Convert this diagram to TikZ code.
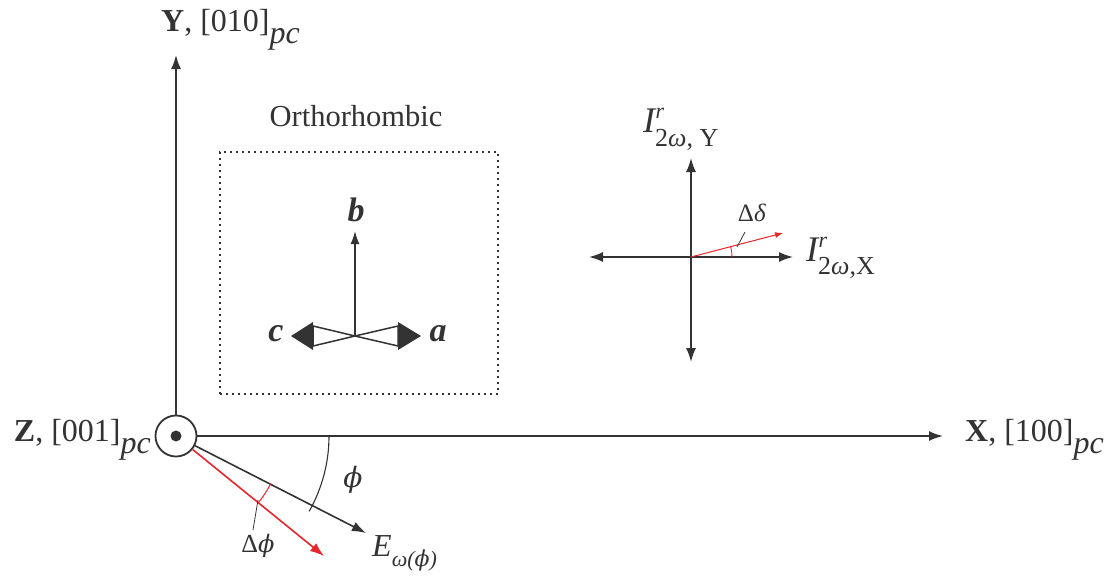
\documentclass[tikz,border=0pt]{standalone}
\usepackage{fontspec}
\setmainfont{Liberation Serif}
\newfontfamily\grk{DejaVu Serif}
\usetikzlibrary{arrows.meta}
\definecolor{ink}{HTML}{333333}
\definecolor{redl}{HTML}{E8252A}
\newcommand\lowsub[1]{\raisebox{-0.38em}{\itshape #1}}
\newcommand\vphi{{\grk\itshape ϕ}}
\begin{document}
\begin{tikzpicture}[x=1pt,y=-1pt,
  axis/.style={draw=ink,line width=1.8pt,-{Latex[length=14pt,width=10pt]}},
  thin/.style={draw=ink,line width=1.1pt},
  lab/.style={inner sep=0pt,text=ink,font=\fontsize{32}{36}\selectfont},
  small/.style={inner sep=0pt,text=ink,font=\fontsize{26}{30}\selectfont},
  vec/.style={inner sep=0pt,text=ink,font=\fontsize{34}{38}\selectfont\bfseries\itshape}]
\useasboundingbox (0,0) rectangle (1117,581);
% origin
\coordinate (O) at (176,436);
\node[circle,draw=ink,line width=1.8pt,minimum size=41pt,inner sep=0pt] (zc) at (O) {};
\fill[ink] (O) circle (5.5pt);
\coordinate (ytip) at (176,55);
\coordinate (xtip) at (943,436);
\draw[axis] (zc.north) -- (ytip);
\draw[axis] (zc.east) -- (xtip);
\node[lab,anchor=west] (ylab) at (161,30) {\textbf{Y}, [010]\lowsub{pc}};
\node[lab,anchor=west] (xlab) at (965,440) {\textbf{X}, [100]\lowsub{pc}};
\node[lab,anchor=east] (zlab) at (151,440) {\textbf{Z}, [001]\lowsub{pc}};
% E field arrows
\coordinate (etip) at (366,533);
\coordinate (rtip) at (324,556);
\draw[axis,line width=1.6pt] (zc.-27) -- (etip);
\draw[axis,draw=redl,line width=1.6pt] (zc.-39) -- (rtip);
\node[inner sep=0pt,text=ink,font=\fontsize{32}{36}\selectfont\itshape,anchor=base west] (elab) at (372,556) {E\raisebox{-0.32em}{\fontsize{22}{24}\selectfont ω(\vphi)}};
% phi arc
\draw[thin] (O) ++(0:153) arc[start angle=0,end angle=29.5,radius=153];
\node[inner sep=0pt,text=ink,font=\fontsize{28}{32}\selectfont] (phil) at (353,480) {\vphi};
% delta phi
\draw[draw=redl,line width=1pt] (O) ++(27:106) arc[start angle=27,end angle=39,radius=106];
\coordinate (dp1) at (258,500);
\coordinate (dp2) at (253,530);
\draw[thin,line width=0.8pt] (dp1) -- (dp2);
\node[small] (dphi) at (258,546) {Δ\fontsize{24}{28}\selectfont\vphi};
% orthorhombic box
\node[draw=ink,line width=1.5pt,dash pattern=on 2pt off 4pt,minimum width=278pt,minimum height=242pt,inner sep=0pt] (box) at (359,273) {};
\node[inner sep=0pt,text=ink,font=\fontsize{30.5}{34}\selectfont] (orth) at (356,116) {Orthorhombic};
\coordinate (C) at (355,336);
\coordinate (btip) at (355,231);
\draw[axis,line width=1.5pt,-{Latex[length=13pt,width=9pt]}] (C) -- (btip);
\draw[thin,line width=1.5pt] (C) -- (398,326) -- (398,346) -- cycle;
\fill[ink] (398,322) -- (421,336) -- (398,350) -- cycle;
\draw[thin,line width=1.5pt] (C) -- (313,326) -- (313,346) -- cycle;
\fill[ink] (313,322) -- (291,336) -- (313,350) -- cycle;
\node[vec] (bl) at (356,210) {b};
\node[vec] (cl) at (276,334) {c};
\node[vec] (al) at (438,334) {a};
% intensity cross
\coordinate (P) at (691,257);
\coordinate (pl) at (589,257);
\coordinate (pr) at (793,257);
\coordinate (pt) at (691,158);
\coordinate (pb) at (691,362);
\draw[axis,line width=1.6pt,{Latex[length=14pt,width=10pt]}-{Latex[length=14pt,width=10pt]}] (pl) -- (pr);
\draw[axis,line width=1.6pt,{Latex[length=14pt,width=10pt]}-{Latex[length=14pt,width=10pt]}] (pb) -- (pt);
\coordinate (dtip) at (783,233);
\draw[draw=redl,line width=1pt,-{Latex[length=8pt,width=6pt]}] (P) -- (dtip);
\draw[draw=redl,line width=0.9pt] (P) ++(0:41) arc[start angle=0,end angle=-14.5,radius=41];
\coordinate (dd1) at (745,232);
\coordinate (dd2) at (737,247);
\draw[thin,line width=0.8pt] (dd1) -- (dd2);
\node[small,font=\fontsize{25}{28}\selectfont] (ddl) at (752,213) {Δ\textit{δ}};
\node[inner sep=0pt,text=ink,anchor=base west,font=\fontsize{36}{40}\selectfont\itshape] (ixl) at (806,261) {I\rlap{\kern0.5pt\raisebox{14pt}{\fontsize{22}{24}\selectfont r}}\raisebox{-13pt}{\fontsize{26}{28}\selectfont\upshape 2\textit{ω},X}};
\node[inner sep=0pt,text=ink,anchor=base west,font=\fontsize{36}{40}\selectfont\itshape] (iyl) at (643,132) {I\rlap{\kern0.5pt\raisebox{14pt}{\fontsize{22}{24}\selectfont r}}\raisebox{-14pt}{\fontsize{26}{28}\selectfont\upshape 2\textit{ω}, Y}};
\end{tikzpicture}
\end{document}
